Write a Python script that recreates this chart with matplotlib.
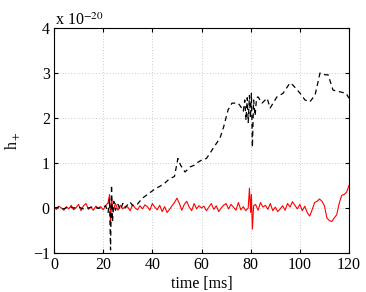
import numpy as np
import matplotlib
matplotlib.use("Agg")
import matplotlib.pyplot as plt

# h_+ in units of 1e-20, time in ms
t_dash = [0, 2, 4, 6, 8, 10, 12, 14, 16, 18, 20, 21, 22, 22.6, 23.0, 23.4, 23.8, 24.3,
          25, 26, 27, 28, 29, 30, 31, 32, 34, 36, 38, 41, 43, 45, 47, 49, 50.4,
          51.5, 53.3, 55.3, 57, 58, 60.2, 62, 63.5, 65, 67.5, 69, 70.8, 72.4, 74.9,
          76, 77, 77.6, 78.1, 78.6, 79.0, 79.5, 79.9, 80.3, 80.7, 81.2, 81.8, 82.4,
          83.0, 84.6, 86.7, 87.9, 90.7, 93.2, 96.0, 97.2, 100.1, 102.1, 104.1, 106.2,
          108.2, 110.3, 111.5, 113.5, 116.4, 118.8, 120]
h_dash = [0.0, 0.02, -0.02, 0.03, 0.0, 0.02, -0.02, 0.0, 0.03, -0.01, 0.02, 0.05, -0.1,
          0.2, -0.93, 0.51, -0.3, 0.15,
          -0.05, 0.08, -0.04, 0.1, 0.0, 0.08, 0.13, 0.05, 0.09, 0.22, 0.3, 0.42, 0.48,
          0.55, 0.65, 0.7, 1.1,
          0.95, 0.8, 0.91, 0.95, 1.0, 1.07, 1.1, 1.22, 1.35, 1.55, 1.8, 2.18, 2.33, 2.33,
          2.25, 2.15, 2.4, 1.95, 2.45, 1.9, 2.5, 2.0, 2.55, 1.35, 2.4, 2.05, 2.45,
          2.47, 2.33, 2.44, 2.22, 2.47, 2.55, 2.78, 2.73, 2.55, 2.4, 2.36, 2.51,
          3.0, 2.96, 2.96, 2.62, 2.58, 2.55, 2.44]

t_red = [0, 1, 2, 3, 4, 5, 6, 7, 8, 9,
         10, 11, 12, 13, 14, 15, 16, 17, 18, 19,
         20, 21, 22, 22.6, 23.0, 23.5, 24, 25, 26, 27, 28, 29,
         30, 31, 32, 33, 34, 35, 36, 37, 38, 39,
         40, 41, 42, 43, 44, 45, 46, 47, 48, 49,
         50, 51, 52, 53, 54, 55, 56, 57, 58, 59,
         60, 61, 62, 63, 64, 65, 66, 67, 68, 69,
         70, 71, 72, 73, 74, 75, 76, 77, 78, 79,
         79.5, 80, 80.3, 80.7, 81.2, 82, 83, 84, 85, 86, 87, 88, 89,
         90, 91, 92, 93, 94, 95, 96, 97, 98, 99,
         100, 101, 102, 103, 104, 105, 106, 107, 108, 109,
         110, 111, 112, 113, 114, 115, 116, 117, 118, 119, 120]
h_red = [0.02, -0.03, 0.04, 0.0, -0.05, 0.03, -0.02, 0.06, -0.04, 0.01,
         0.08, -0.06, 0.05, 0.1, -0.03, 0.02, -0.05, 0.04, 0.0, 0.03,
         -0.04, 0.05, 0.12, 0.3, -0.35, 0.2, -0.08, 0.1, -0.05, 0.06, -0.02, 0.04,
         0.02, -0.06, 0.08, 0.0, -0.04, 0.05, -0.02, 0.07, 0.03, -0.05,
         0.1, 0.02, -0.04, 0.06, -0.08, 0.03, -0.1, -0.03, 0.05, 0.12,
         0.22, 0.1, -0.05, 0.08, 0.15, 0.02, -0.06, 0.1, -0.02, 0.05,
         0.0, 0.04, -0.06, 0.02, 0.1, -0.03, 0.05, -0.08, 0.0, 0.06,
         0.1, -0.02, 0.08, 0.02, -0.05, 0.12, -0.04, 0.03, -0.06, 0.0,
         0.44, -0.1, 0.3, -0.47, 0.05, 0.08, -0.05, 0.12, 0.02, 0.06, -0.03, 0.1, -0.06,
         0.02, -0.08, -0.02, 0.05, -0.05, 0.1, 0.02, 0.14, 0.06, -0.02,
         0.08, -0.06, 0.04, -0.1, -0.18, -0.04, 0.12, 0.15, 0.2, 0.15,
         0.05, -0.22, -0.28, -0.3, -0.22, -0.15, 0.1, 0.28, 0.3, 0.35, 0.5]

x_ticks = [0, 20, 40, 60, 80, 100, 120]
y_ticks = [-1, 0, 1, 2, 3, 4]

plt.rcParams['font.family'] = ['Liberation Serif', 'DejaVu Serif']
plt.rcParams['mathtext.fontset'] = 'stix'

fig = plt.figure(figsize=(3.66, 2.92), dpi=100)
ax = fig.add_axes([54 / 366, 1 - 253 / 292, 295 / 366, 225 / 292])

ax.plot(t_red, h_red, color='red', lw=0.8)
ax.plot(t_dash, h_dash, color='black', lw=0.9, ls=(0, (4, 3)))

ax.set_xlim(0, 120)
ax.set_ylim(-1, 4)
ax.set_xticks(x_ticks)
ax.set_yticks(y_ticks)
ax.grid(True, ls=(0, (1, 3)), color='#a0a0a0', lw=0.5)
ax.tick_params(direction='in', length=3, top=True, right=True, labelsize=11.5, pad=3)
for s in ax.spines.values():
    s.set_linewidth(0.8)

ax.set_xlabel('time [ms]', fontsize=11.5, labelpad=2)
ax.set_ylabel('h$_+$', fontsize=11.5, labelpad=8)
ax.text(0.005, 0.995, 'x 10$^{-20}$', transform=ax.transAxes, fontsize=11.5,
        ha='left', va='bottom')

fig.savefig('out.png', dpi=100)
